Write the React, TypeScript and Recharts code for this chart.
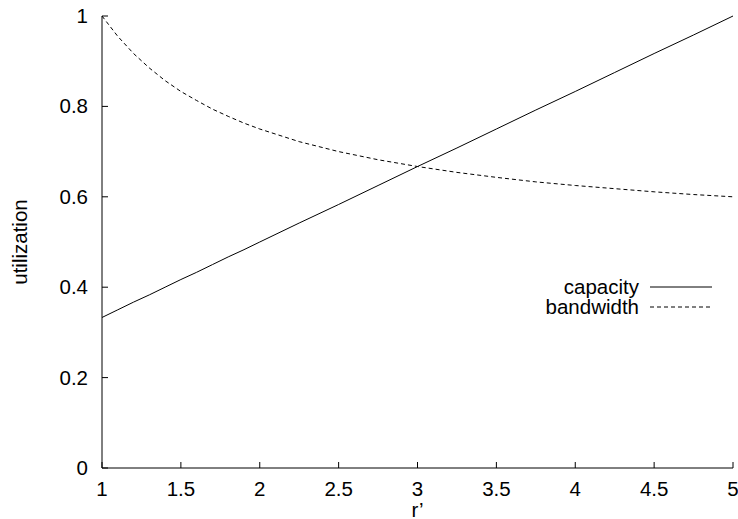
import React from 'react';
import { LineChart, Line, XAxis, YAxis, Customized } from 'recharts';

const rValues = [1, 1.1, 1.2, 1.3, 1.4, 1.5, 1.6, 1.7, 1.8, 1.9, 2, 2.25, 2.5, 2.75, 3, 3.25, 3.5, 3.75, 4, 4.25, 4.5, 4.75, 5];
const capacity = [0.333, 0.35, 0.367, 0.383, 0.4, 0.417, 0.433, 0.45, 0.467, 0.483, 0.5, 0.542, 0.583, 0.625, 0.667, 0.708, 0.75, 0.792, 0.833, 0.875, 0.917, 0.958, 1.0];
const bandwidth = [1.0, 0.955, 0.917, 0.885, 0.857, 0.833, 0.813, 0.794, 0.778, 0.763, 0.75, 0.722, 0.7, 0.682, 0.667, 0.654, 0.643, 0.633, 0.625, 0.618, 0.611, 0.605, 0.6];
const xTicks = [1, 1.5, 2, 2.5, 3, 3.5, 4, 4.5, 5];
const yTicks = [0, 0.2, 0.4, 0.6, 0.8, 1];
const xTickLabels = ['1', '1.5', '2', '2.5', '3', '3.5', '4', '4.5', '5'];
const yTickLabels = ['0', '0.2', '0.4', '0.6', '0.8', '1'];
const seriesNames = ['capacity', 'bandwidth'];

const data = rValues.map((r, i) => ({ r, capacity: capacity[i], bandwidth: bandwidth[i] }));

const FONT = 'Liberation Sans, Arial, Helvetica, sans-serif';
const FS = 20.5;
const TICK = 6;

const BottomTick = (p: any) => {
  const idx = xTicks.indexOf(p.payload.value);
  return (
    <g>
      <line x1={p.x} y1={p.y} x2={p.x} y2={p.y - TICK} stroke="#000" strokeWidth={1} />
      <text x={p.x} y={p.y + 28} textAnchor="middle" fontSize={FS} fontFamily={FONT} fill="#000">
        {idx >= 0 ? xTickLabels[idx] : p.payload.value}
      </text>
    </g>
  );
};
const TopTick = (p: any) => (
  <line x1={p.x} y1={p.y} x2={p.x} y2={p.y + TICK} stroke="#000" strokeWidth={1} />
);
const LeftTick = (p: any) => {
  const idx = yTicks.indexOf(p.payload.value);
  return (
    <g>
      <line x1={p.x} y1={p.y} x2={p.x + TICK} y2={p.y} stroke="#000" strokeWidth={1} />
      <text x={p.x - 14} y={p.y + 7} textAnchor="end" fontSize={FS} fontFamily={FONT} fill="#000">
        {idx >= 0 ? yTickLabels[idx] : p.payload.value}
      </text>
    </g>
  );
};
const RightTick = (p: any) => (
  <line x1={p.x} y1={p.y} x2={p.x - TICK} y2={p.y} stroke="#000" strokeWidth={1} />
);

const LegendBlock = () => {
  const textRight = 639;
  const lineX1 = 650;
  const lineX2 = 712;
  const y0 = 287;
  const step = 20;
  return (
    <g>
      {seriesNames.map((name, i) => (
        <g key={name}>
          <text x={textRight} y={y0 + i * step + 7} textAnchor="end" fontSize={FS} fontFamily={FONT} fill="#000">
            {name}
          </text>
          <line
            x1={lineX1}
            y1={y0 + i * step}
            x2={lineX2}
            y2={y0 + i * step}
            stroke="#000"
            strokeWidth={1}
            strokeDasharray={i === 1 ? '4 3' : undefined}
          />
        </g>
      ))}
    </g>
  );
};

export default function App() {
  return (
    <div style={{ position: 'absolute', left: 0, top: 0, background: '#fff' }}>
      <LineChart width={738} height={519} data={data} margin={{ top: 16, right: 5, bottom: 21, left: 42 }}>
        <XAxis
          dataKey="r"
          type="number"
          domain={[1, 5]}
          ticks={xTicks}
          tickSize={0}
          tickMargin={0}
          tickLine={false}
          tick={<BottomTick />}
          axisLine={{ stroke: '#000', strokeWidth: 1 }}
          height={30}
          interval={0}
          label={{
            content: (props: any) => {
              const vb = props.viewBox;
              return (
                <text x={vb.x + vb.width / 2} y={vb.y + 49} textAnchor="middle" fontSize={FS} fontFamily={FONT} fill="#000">
                  r’
                </text>
              );
            },
          }}
        />
        <XAxis
          xAxisId="top"
          orientation="top"
          dataKey="r"
          type="number"
          domain={[1, 5]}
          ticks={xTicks}
          tickSize={0}
          tickMargin={0}
          tickLine={false}
          tick={<TopTick />}
          axisLine={{ stroke: '#000', strokeWidth: 1 }}
          height={0}
          interval={0}
        />
        <YAxis
          type="number"
          domain={[0, 1]}
          ticks={yTicks}
          tickSize={0}
          tickMargin={0}
          tickLine={false}
          tick={<LeftTick />}
          axisLine={{ stroke: '#000', strokeWidth: 1 }}
          width={60}
          interval={0}
          label={{
            content: (props: any) => {
              const vb = props.viewBox;
              const cx = 19;
              const cy = vb.y + vb.height / 2;
              return (
                <text x={cx} y={cy} textAnchor="middle" dominantBaseline="central" transform={`rotate(-90, ${cx}, ${cy})`} fontSize={FS} fontFamily={FONT} fill="#000">
                  utilization
                </text>
              );
            },
          }}
        />
        <YAxis
          yAxisId="right"
          orientation="right"
          type="number"
          domain={[0, 1]}
          ticks={yTicks}
          tickSize={0}
          tickMargin={0}
          tickLine={false}
          tick={<RightTick />}
          axisLine={{ stroke: '#000', strokeWidth: 1 }}
          width={0}
          interval={0}
        />
        <Line type="linear" dataKey="capacity" stroke="#000" strokeWidth={1} dot={false} isAnimationActive={false} />
        <Line type="linear" dataKey="bandwidth" stroke="#000" strokeWidth={1} strokeDasharray="4 3" dot={false} isAnimationActive={false} />
        <Customized component={LegendBlock} />
      </LineChart>
    </div>
  );
}
